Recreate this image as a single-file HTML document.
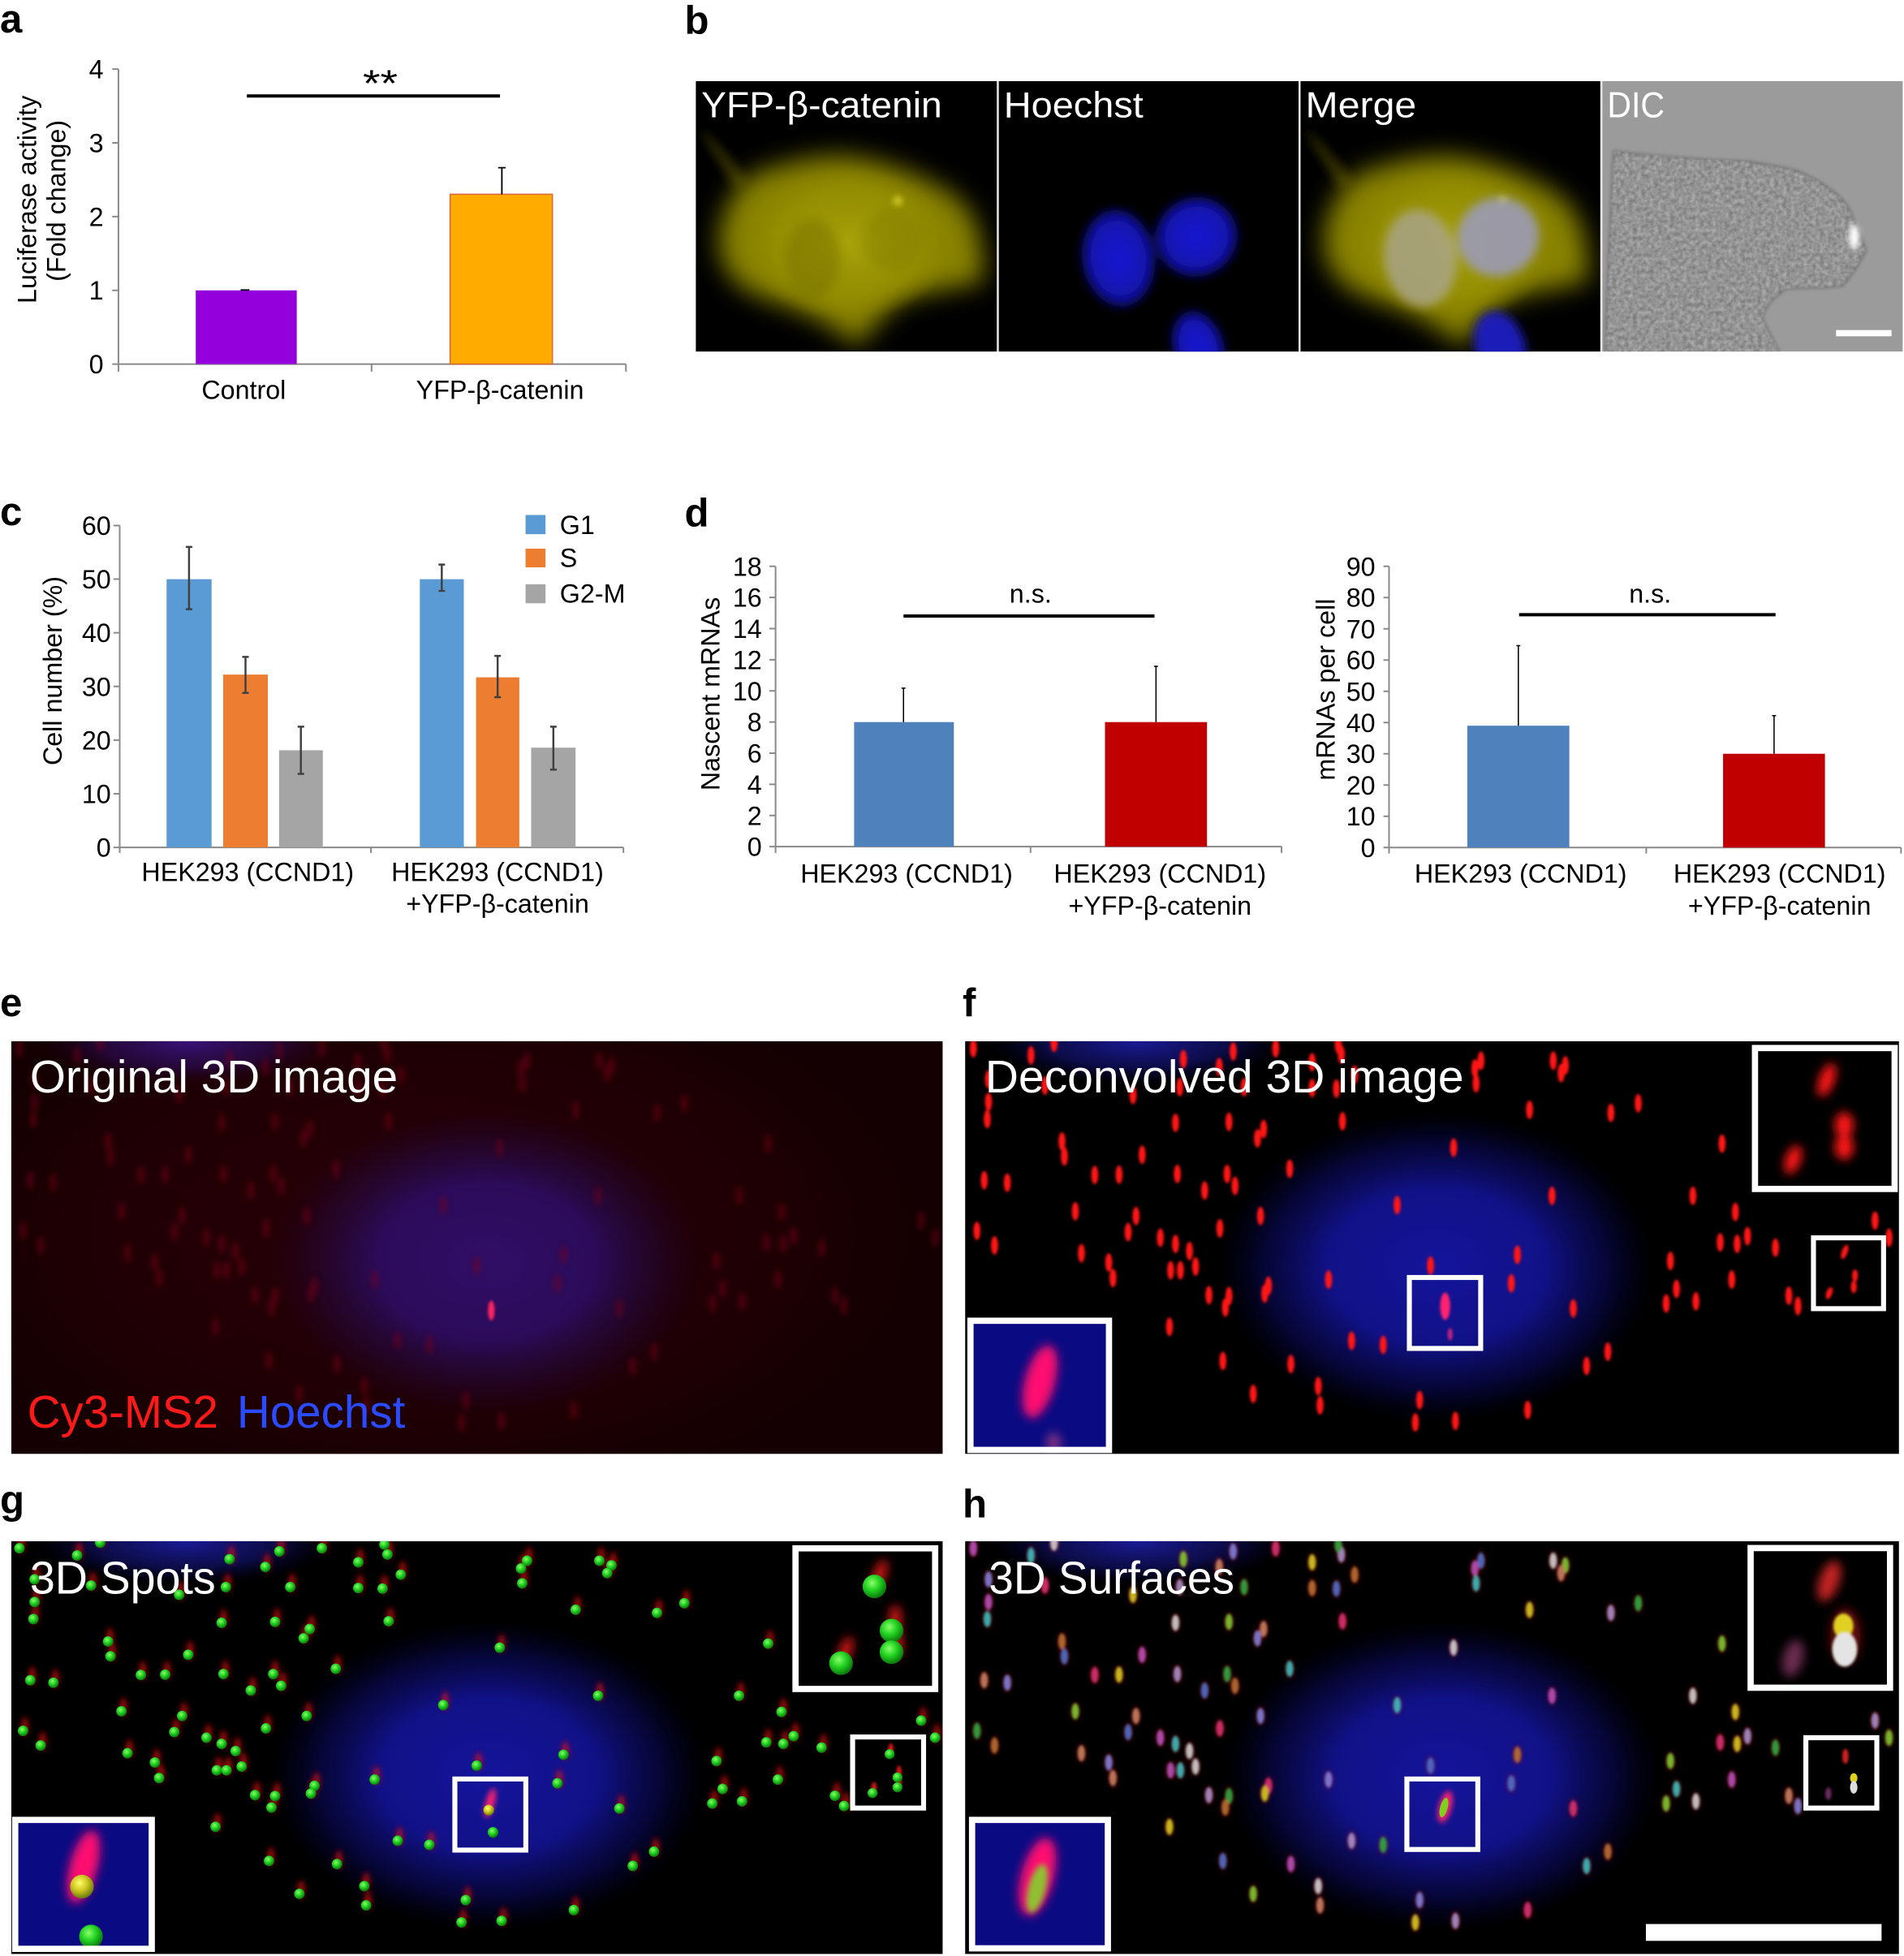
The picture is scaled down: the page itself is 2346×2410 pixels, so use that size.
<!DOCTYPE html>
<html><head><meta charset="utf-8">
<style>
html,body{margin:0;padding:0;background:#fff;}
svg{display:block;}
text{font-family:"Liberation Sans",Arial,sans-serif;}
.c0{fill:#b850b8}.c1{fill:#40bcbc}.c2{fill:#d0d0d0}.c3{fill:#80c830}.c4{fill:#c88060}.c5{fill:#8080d8}
.c6{fill:#d83070}.c7{fill:#d8c820}.c8{fill:#a890c8}.c9{fill:#30a840}.c10{fill:#b87030}.c11{fill:#5070c8}
</style></head><body>
<svg xmlns="http://www.w3.org/2000/svg" width="2346" height="2410" viewBox="0 0 1527 1568.65" preserveAspectRatio="none">
<defs>
<filter id="b1" x="-30%" y="-30%" width="160%" height="160%"><feGaussianBlur stdDeviation="1.1"/></filter>
<filter id="b2" x="-50%" y="-50%" width="200%" height="200%"><feGaussianBlur stdDeviation="2.2"/></filter>
<filter id="b4" x="-80%" y="-80%" width="260%" height="260%"><feGaussianBlur stdDeviation="4"/></filter>
<filter id="b10" x="-50%" y="-50%" width="200%" height="200%"><feGaussianBlur stdDeviation="10"/></filter>
<filter id="tex" x="0" y="0" width="100%" height="100%" color-interpolation-filters="sRGB">
<feTurbulence type="fractalNoise" baseFrequency="0.3" numOctaves="2" seed="4" result="n"/>
<feColorMatrix in="n" type="matrix" values="0.3 0 0 0 0.43  0.3 0 0 0 0.43  0.3 0 0 0 0.43  0 0 0 0 1" result="g"/>
<feComposite in="g" in2="SourceGraphic" operator="in"/>
</filter>
<radialGradient id="nucB"><stop offset="0" stop-color="#14149c"/><stop offset=".5" stop-color="#12128e" stop-opacity=".95"/><stop offset=".78" stop-color="#0c0c70" stop-opacity=".5"/><stop offset="1" stop-color="#000040" stop-opacity="0"/></radialGradient>
<radialGradient id="nucP"><stop offset="0" stop-color="#300e66"/><stop offset=".5" stop-color="#2c0c5e" stop-opacity=".95"/><stop offset=".78" stop-color="#24083e" stop-opacity=".5"/><stop offset="1" stop-color="#200020" stop-opacity="0"/></radialGradient>
<radialGradient id="topB"><stop offset="0" stop-color="#1a1a96"/><stop offset=".6" stop-color="#141478" stop-opacity=".6"/><stop offset="1" stop-color="#000040" stop-opacity="0"/></radialGradient>
<radialGradient id="topP"><stop offset="0" stop-color="#3a1278"/><stop offset=".6" stop-color="#2c0c58" stop-opacity=".6"/><stop offset="1" stop-color="#200020" stop-opacity="0"/></radialGradient>
<radialGradient id="hazeR"><stop offset="0" stop-color="#2a0007"/><stop offset=".7" stop-color="#220005" stop-opacity=".7"/><stop offset="1" stop-color="#140002" stop-opacity="0"/></radialGradient>
<radialGradient id="yc"><stop offset="0" stop-color="#a8a20a"/><stop offset=".7" stop-color="#9a9404" stop-opacity=".6"/><stop offset="1" stop-color="#8c8600" stop-opacity="0"/></radialGradient>
<radialGradient id="gb" cx=".4" cy=".35" r=".65"><stop offset="0" stop-color="#8aff6a"/><stop offset=".5" stop-color="#22d222"/><stop offset="1" stop-color="#0a780a"/></radialGradient>
<radialGradient id="yb" cx=".4" cy=".35" r=".65"><stop offset="0" stop-color="#ffff70"/><stop offset=".5" stop-color="#d0c820"/><stop offset="1" stop-color="#6a7a10"/></radialGradient>
<radialGradient id="nb" cx=".5" cy=".5" r=".5"><stop offset="0" stop-color="#1a1ad2"/><stop offset=".7" stop-color="#1414b4"/><stop offset="1" stop-color="#0a0a78"/></radialGradient>
<clipPath id="cb1"><rect x="558" y="65" width="241.5" height="217"/></clipPath>
<clipPath id="cb2"><rect x="801" y="65" width="240.5" height="217"/></clipPath>
<clipPath id="cb3"><rect x="1043" y="65" width="240.5" height="217"/></clipPath>
<clipPath id="cb4"><rect x="1285" y="65" width="241" height="217"/></clipPath>
<clipPath id="ce"><rect x="9" y="835" width="747" height="331"/></clipPath>
<clipPath id="cf"><rect x="774" y="835" width="749" height="331"/></clipPath>
<clipPath id="cg"><rect x="9" y="1236" width="747" height="331"/></clipPath>
<clipPath id="ch"><rect x="774" y="1236" width="749" height="331"/></clipPath>
<g id="yfp">
<path d="M562,104 C575,114 590,130 600,146 L590,152 C578,132 568,118 562,104 Z" fill="#2e2c00" filter="url(#b4)"/>
<g filter="url(#b10)">
<path d="M600,142 C622,132 660,122 685.7,126 C712,130 742,142 762,155 C782,168 790,192 788,226 C760,232 732,236 724,241 C708,251 700,264 687,278 C672,263 650,252 630,245 C610,238 596,234 587,222 C575,208 575,190 580,175 C585,160 592,150 600,142 Z" fill="#888200"/>
</g>
<ellipse cx="680" cy="195" rx="85" ry="62" fill="url(#yc)"/>
<ellipse cx="652" cy="208" rx="22" ry="32" fill="#746e00" opacity=".45" filter="url(#b4)"/>
<ellipse cx="716" cy="192" rx="24" ry="24" fill="#7a7400" opacity=".3" filter="url(#b4)"/>
<ellipse cx="720" cy="161" rx="4" ry="4" fill="#c8c020" filter="url(#b2)"/>
</g>
<g id="P">
<ellipse cx="32" cy="255" rx="5.8" ry="30"/><ellipse cx="127" cy="278" rx="5.8" ry="30"/><ellipse cx="165" cy="237" rx="5.8" ry="30"/><ellipse cx="378" cy="290" rx="5.8" ry="30"/><ellipse cx="437" cy="315" rx="5.8" ry="30"/><ellipse cx="460" cy="265" rx="5.8" ry="30"/><ellipse cx="530" cy="255" rx="5.8" ry="30"/><ellipse cx="590" cy="300" rx="5.8" ry="30"/><ellipse cx="638" cy="275" rx="5.8" ry="30"/><ellipse cx="633" cy="243" rx="5.8" ry="30"/><ellipse cx="660" cy="340" rx="5.8" ry="30"/><ellipse cx="868" cy="295" rx="5.8" ry="30"/><ellipse cx="858" cy="320" rx="5.8" ry="30"/><ellipse cx="860" cy="368" rx="5.8" ry="30"/><ellipse cx="987" cy="295" rx="5.8" ry="30"/><ellipse cx="1007" cy="310" rx="5.8" ry="30"/><ellipse cx="1000" cy="335" rx="5.8" ry="30"/><ellipse cx="57" cy="355" rx="5.8" ry="30"/><ellipse cx="150" cy="375" rx="5.8" ry="30"/><ellipse cx="295" cy="405" rx="5.8" ry="30"/><ellipse cx="372" cy="380" rx="5.8" ry="30"/><ellipse cx="478" cy="380" rx="5.8" ry="30"/><ellipse cx="590" cy="383" rx="5.8" ry="30"/><ellipse cx="630" cy="385" rx="5.8" ry="30"/><ellipse cx="57" cy="428" rx="5.8" ry="30"/><ellipse cx="55" cy="483" rx="5.8" ry="30"/><ellipse cx="365" cy="495" rx="5.8" ry="30"/><ellipse cx="453" cy="492" rx="5.8" ry="30"/><ellipse cx="510" cy="515" rx="5.8" ry="30"/><ellipse cx="500" cy="545" rx="5.8" ry="30"/><ellipse cx="640" cy="490" rx="5.8" ry="30"/><ellipse cx="948" cy="453" rx="5.8" ry="30"/><ellipse cx="1082" cy="463" rx="5.8" ry="30"/><ellipse cx="1127" cy="432" rx="5.8" ry="30"/><ellipse cx="178" cy="555" rx="5.8" ry="30"/><ellipse cx="182" cy="603" rx="5.8" ry="30"/><ellipse cx="310" cy="598" rx="5.8" ry="30"/><ellipse cx="553" cy="643" rx="5.8" ry="30"/><ellipse cx="823" cy="575" rx="5.8" ry="30"/><ellipse cx="1265" cy="562" rx="5.8" ry="30"/><ellipse cx="50" cy="680" rx="5.8" ry="30"/><ellipse cx="88" cy="688" rx="5.8" ry="30"/><ellipse cx="232" cy="663" rx="5.8" ry="30"/><ellipse cx="272" cy="662" rx="5.8" ry="30"/><ellipse cx="368" cy="660" rx="5.8" ry="30"/><ellipse cx="450" cy="660" rx="5.8" ry="30"/><ellipse cx="463" cy="698" rx="5.8" ry="30"/><ellipse cx="413" cy="713" rx="5.8" ry="30"/><ellipse cx="985" cy="730" rx="5.8" ry="30"/><ellipse cx="730" cy="760" rx="5.8" ry="30"/><ellipse cx="1217" cy="730" rx="5.8" ry="30"/><ellipse cx="200" cy="780" rx="5.8" ry="30"/><ellipse cx="300" cy="795" rx="5.8" ry="30"/><ellipse cx="505" cy="795" rx="5.8" ry="30"/><ellipse cx="438" cy="835" rx="5.8" ry="30"/><ellipse cx="1287" cy="782" rx="5.8" ry="30"/><ellipse cx="1517" cy="810" rx="5.8" ry="30"/><ellipse cx="38" cy="843" rx="5.8" ry="30"/><ellipse cx="67" cy="890" rx="5.8" ry="30"/><ellipse cx="287" cy="847" rx="5.8" ry="30"/><ellipse cx="340" cy="865" rx="5.8" ry="30"/><ellipse cx="365" cy="885" rx="5.8" ry="30"/><ellipse cx="388" cy="908" rx="5.8" ry="30"/><ellipse cx="1540" cy="865" rx="5.8" ry="30"/><ellipse cx="210" cy="915" rx="5.8" ry="30"/><ellipse cx="255" cy="945" rx="5.8" ry="30"/><ellipse cx="1262" cy="880" rx="5.8" ry="30"/><ellipse cx="1290" cy="885" rx="5.8" ry="30"/><ellipse cx="1307" cy="860" rx="5.8" ry="30"/><ellipse cx="1353" cy="897" rx="5.8" ry="30"/><ellipse cx="928" cy="920" rx="5.8" ry="30"/><ellipse cx="785" cy="955" rx="5.8" ry="30"/><ellipse cx="357" cy="970" rx="5.8" ry="30"/><ellipse cx="373" cy="970" rx="5.8" ry="30"/><ellipse cx="398" cy="958" rx="5.8" ry="30"/><ellipse cx="1180" cy="940" rx="5.8" ry="30"/><ellipse cx="262" cy="995" rx="5.8" ry="30"/><ellipse cx="617" cy="1000" rx="5.8" ry="30"/><ellipse cx="518" cy="1020" rx="5.8" ry="30"/><ellipse cx="512" cy="1045" rx="5.8" ry="30"/><ellipse cx="420" cy="1050" rx="5.8" ry="30"/><ellipse cx="453" cy="1053" rx="5.8" ry="30"/><ellipse cx="447" cy="1090" rx="5.8" ry="30"/><ellipse cx="918" cy="1012" rx="5.8" ry="30"/><ellipse cx="1281" cy="1000" rx="5.8" ry="30"/><ellipse cx="1190" cy="1030" rx="5.8" ry="30"/><ellipse cx="1222" cy="1070" rx="5.8" ry="30"/><ellipse cx="1173" cy="1077" rx="5.8" ry="30"/><ellipse cx="1375" cy="1052" rx="5.8" ry="30"/><ellipse cx="1390" cy="1085" rx="5.8" ry="30"/><ellipse cx="1020" cy="1093" rx="5.8" ry="30"/><ellipse cx="355" cy="1152" rx="5.8" ry="30"/><ellipse cx="655" cy="1197" rx="5.8" ry="30"/><ellipse cx="707" cy="1210" rx="5.8" ry="30"/><ellipse cx="1077" cy="1232" rx="5.8" ry="30"/><ellipse cx="443" cy="1262" rx="5.8" ry="30"/><ellipse cx="555" cy="1272" rx="5.8" ry="30"/><ellipse cx="1042" cy="1278" rx="5.8" ry="30"/><ellipse cx="600" cy="1343" rx="5.8" ry="30"/><ellipse cx="493" cy="1368" rx="5.8" ry="30"/><ellipse cx="603" cy="1405" rx="5.8" ry="30"/><ellipse cx="767" cy="1388" rx="5.8" ry="30"/><ellipse cx="945" cy="1420" rx="5.8" ry="30"/><ellipse cx="760" cy="1460" rx="5.8" ry="30"/><ellipse cx="826" cy="1455" rx="5.8" ry="30"/>
</g>
<g id="G">
<ellipse cx="32" cy="255" rx="8.6" ry="17"/><ellipse cx="127" cy="278" rx="8.6" ry="17"/><ellipse cx="165" cy="237" rx="8.6" ry="17"/><ellipse cx="378" cy="290" rx="8.6" ry="17"/><ellipse cx="437" cy="315" rx="8.6" ry="17"/><ellipse cx="460" cy="265" rx="8.6" ry="17"/><ellipse cx="530" cy="255" rx="8.6" ry="17"/><ellipse cx="590" cy="300" rx="8.6" ry="17"/><ellipse cx="638" cy="275" rx="8.6" ry="17"/><ellipse cx="633" cy="243" rx="8.6" ry="17"/><ellipse cx="660" cy="340" rx="8.6" ry="17"/><ellipse cx="868" cy="295" rx="8.6" ry="17"/><ellipse cx="858" cy="320" rx="8.6" ry="17"/><ellipse cx="860" cy="368" rx="8.6" ry="17"/><ellipse cx="987" cy="295" rx="8.6" ry="17"/><ellipse cx="1007" cy="310" rx="8.6" ry="17"/><ellipse cx="1000" cy="335" rx="8.6" ry="17"/><ellipse cx="57" cy="355" rx="8.6" ry="17"/><ellipse cx="150" cy="375" rx="8.6" ry="17"/><ellipse cx="295" cy="405" rx="8.6" ry="17"/><ellipse cx="372" cy="380" rx="8.6" ry="17"/><ellipse cx="478" cy="380" rx="8.6" ry="17"/><ellipse cx="590" cy="383" rx="8.6" ry="17"/><ellipse cx="630" cy="385" rx="8.6" ry="17"/><ellipse cx="57" cy="428" rx="8.6" ry="17"/><ellipse cx="55" cy="483" rx="8.6" ry="17"/><ellipse cx="365" cy="495" rx="8.6" ry="17"/><ellipse cx="453" cy="492" rx="8.6" ry="17"/><ellipse cx="510" cy="515" rx="8.6" ry="17"/><ellipse cx="500" cy="545" rx="8.6" ry="17"/><ellipse cx="640" cy="490" rx="8.6" ry="17"/><ellipse cx="948" cy="453" rx="8.6" ry="17"/><ellipse cx="1082" cy="463" rx="8.6" ry="17"/><ellipse cx="1127" cy="432" rx="8.6" ry="17"/><ellipse cx="178" cy="555" rx="8.6" ry="17"/><ellipse cx="182" cy="603" rx="8.6" ry="17"/><ellipse cx="310" cy="598" rx="8.6" ry="17"/><ellipse cx="553" cy="643" rx="8.6" ry="17"/><ellipse cx="823" cy="575" rx="8.6" ry="17"/><ellipse cx="1265" cy="562" rx="8.6" ry="17"/><ellipse cx="50" cy="680" rx="8.6" ry="17"/><ellipse cx="88" cy="688" rx="8.6" ry="17"/><ellipse cx="232" cy="663" rx="8.6" ry="17"/><ellipse cx="272" cy="662" rx="8.6" ry="17"/><ellipse cx="368" cy="660" rx="8.6" ry="17"/><ellipse cx="450" cy="660" rx="8.6" ry="17"/><ellipse cx="463" cy="698" rx="8.6" ry="17"/><ellipse cx="413" cy="713" rx="8.6" ry="17"/><ellipse cx="985" cy="730" rx="8.6" ry="17"/><ellipse cx="730" cy="760" rx="8.6" ry="17"/><ellipse cx="1217" cy="730" rx="8.6" ry="17"/><ellipse cx="200" cy="780" rx="8.6" ry="17"/><ellipse cx="300" cy="795" rx="8.6" ry="17"/><ellipse cx="505" cy="795" rx="8.6" ry="17"/><ellipse cx="438" cy="835" rx="8.6" ry="17"/><ellipse cx="1287" cy="782" rx="8.6" ry="17"/><ellipse cx="1517" cy="810" rx="8.6" ry="17"/><ellipse cx="38" cy="843" rx="8.6" ry="17"/><ellipse cx="67" cy="890" rx="8.6" ry="17"/><ellipse cx="287" cy="847" rx="8.6" ry="17"/><ellipse cx="340" cy="865" rx="8.6" ry="17"/><ellipse cx="365" cy="885" rx="8.6" ry="17"/><ellipse cx="388" cy="908" rx="8.6" ry="17"/><ellipse cx="1540" cy="865" rx="8.6" ry="17"/><ellipse cx="210" cy="915" rx="8.6" ry="17"/><ellipse cx="255" cy="945" rx="8.6" ry="17"/><ellipse cx="1262" cy="880" rx="8.6" ry="17"/><ellipse cx="1290" cy="885" rx="8.6" ry="17"/><ellipse cx="1307" cy="860" rx="8.6" ry="17"/><ellipse cx="1353" cy="897" rx="8.6" ry="17"/><ellipse cx="928" cy="920" rx="8.6" ry="17"/><ellipse cx="785" cy="955" rx="8.6" ry="17"/><ellipse cx="357" cy="970" rx="8.6" ry="17"/><ellipse cx="373" cy="970" rx="8.6" ry="17"/><ellipse cx="398" cy="958" rx="8.6" ry="17"/><ellipse cx="1180" cy="940" rx="8.6" ry="17"/><ellipse cx="262" cy="995" rx="8.6" ry="17"/><ellipse cx="617" cy="1000" rx="8.6" ry="17"/><ellipse cx="518" cy="1020" rx="8.6" ry="17"/><ellipse cx="512" cy="1045" rx="8.6" ry="17"/><ellipse cx="420" cy="1050" rx="8.6" ry="17"/><ellipse cx="453" cy="1053" rx="8.6" ry="17"/><ellipse cx="447" cy="1090" rx="8.6" ry="17"/><ellipse cx="918" cy="1012" rx="8.6" ry="17"/><ellipse cx="1281" cy="1000" rx="8.6" ry="17"/><ellipse cx="1190" cy="1030" rx="8.6" ry="17"/><ellipse cx="1222" cy="1070" rx="8.6" ry="17"/><ellipse cx="1173" cy="1077" rx="8.6" ry="17"/><ellipse cx="1375" cy="1052" rx="8.6" ry="17"/><ellipse cx="1390" cy="1085" rx="8.6" ry="17"/><ellipse cx="1020" cy="1093" rx="8.6" ry="17"/><ellipse cx="355" cy="1152" rx="8.6" ry="17"/><ellipse cx="655" cy="1197" rx="8.6" ry="17"/><ellipse cx="707" cy="1210" rx="8.6" ry="17"/><ellipse cx="1077" cy="1232" rx="8.6" ry="17"/><ellipse cx="443" cy="1262" rx="8.6" ry="17"/><ellipse cx="555" cy="1272" rx="8.6" ry="17"/><ellipse cx="1042" cy="1278" rx="8.6" ry="17"/><ellipse cx="600" cy="1343" rx="8.6" ry="17"/><ellipse cx="493" cy="1368" rx="8.6" ry="17"/><ellipse cx="603" cy="1405" rx="8.6" ry="17"/><ellipse cx="767" cy="1388" rx="8.6" ry="17"/><ellipse cx="945" cy="1420" rx="8.6" ry="17"/><ellipse cx="760" cy="1460" rx="8.6" ry="17"/><ellipse cx="826" cy="1455" rx="8.6" ry="17"/>
</g>
</defs>

<rect width="1527" height="1568.65" fill="#fff"/>

<g font-weight="bold" font-size="32" fill="#000">
<text x="0" y="26">a</text><text x="549" y="27">b</text>
<text x="0" y="421">c</text><text x="549" y="422">d</text>
<text x="0" y="815">e</text><text x="772" y="815">f</text>
<text x="0" y="1214">g</text><text x="772" y="1217">h</text>
</g>

<!-- ===== Panel a ===== -->
<g stroke="#8a8a8a" stroke-width="1.3" fill="none">
<path d="M95 55.4V292M90 292H502M90 55.4H95M90 114.55H95M90 173.7H95M90 232.85H95M95 292V298M298 292V298M502 292V298"/>
</g>
<rect x="157" y="232.85" width="81" height="59.15" fill="#9400dc"/>
<rect x="361" y="155.8" width="82" height="136.2" fill="#ffab00" stroke="#d9663a" stroke-width="1"/>
<path d="M402.5 155.8V134.5M399.5 134.5H405.5M193 232.6H200" stroke="#000" stroke-width="1.2" fill="none"/>
<line x1="198" y1="77" x2="401" y2="77" stroke="#000" stroke-width="2.6"/>
<text x="305" y="77" font-size="30" text-anchor="middle" textLength="28" lengthAdjust="spacingAndGlyphs">**</text>
<g font-size="21" text-anchor="end" fill="#000">
<text x="83" y="299.5">0</text><text x="83" y="240.3">1</text><text x="83" y="181.2">2</text><text x="83" y="122">3</text><text x="83" y="62.9">4</text>
</g>
<g font-size="21" text-anchor="middle" fill="#000">
<text x="195.5" y="320">Control</text>
<text x="401" y="320">YFP-β-catenin</text>
<text transform="translate(29,160) rotate(-90)">Luciferase activity</text>
<text transform="translate(52.5,161) rotate(-90)">(Fold change)</text>
</g>

<!-- ===== Panel b ===== -->
<g clip-path="url(#cb1)">
<rect x="558" y="65" width="241.5" height="217" fill="#000"/>
<use href="#yfp"/>
<text x="562.5" y="94" font-size="29" fill="#fff" textLength="193" lengthAdjust="spacingAndGlyphs">YFP-β-catenin</text>
</g>
<g clip-path="url(#cb2)">
<rect x="801" y="65" width="240.5" height="217" fill="#000"/>
<g filter="url(#b4)">
<ellipse cx="897" cy="207" rx="29" ry="39" fill="url(#nb)" transform="rotate(-8 897 207)"/>
<ellipse cx="959.5" cy="190" rx="33" ry="31.5" fill="url(#nb)" transform="rotate(-20 959.5 190)"/>
<ellipse cx="961" cy="278" rx="20" ry="29" fill="url(#nb)" transform="rotate(-18 961 278)"/>
</g>
<text x="805" y="94" font-size="29" fill="#fff" textLength="112" lengthAdjust="spacingAndGlyphs">Hoechst</text>
</g>
<g clip-path="url(#cb3)">
<rect x="1043" y="65" width="240.5" height="217" fill="#000"/>
<g transform="translate(485,0)"><use href="#yfp"/></g>
<g filter="url(#b4)">
<ellipse cx="1139" cy="207" rx="29" ry="39" fill="#aaa688" transform="rotate(-8 1139 207)" opacity=".85"/>
<ellipse cx="1201.5" cy="190" rx="33" ry="31.5" fill="#9c9cbc" transform="rotate(-20 1201.5 190)" opacity=".88"/>
<ellipse cx="1203" cy="278" rx="20" ry="29" fill="#1c1cb8" transform="rotate(-18 1203 278)"/>
</g>
<text x="1047" y="94" font-size="29" fill="#fff" textLength="89" lengthAdjust="spacingAndGlyphs">Merge</text>
</g>
<g clip-path="url(#cb4)">
<rect x="1285" y="65" width="241" height="217" fill="#9b9b9b"/>
<path d="M1287,282 L1290,200 C1292,170 1292,140 1294,121 C1330,125 1370,128 1401.6,128.9 C1420,132 1440,135 1446,138.6 C1470,150 1480,160 1484,169 C1490,185 1496,195 1496.6,201.5 C1490,215 1482,225 1477.6,229.6 C1460,232 1445,231 1433,231.8 C1420,240 1414,250 1414,255.6 C1418,265 1424,275 1427,282 Z" fill="#999" filter="url(#tex)"/>
<path d="M1287,282 L1290,200 C1292,170 1292,140 1294,121 C1330,125 1370,128 1401.6,128.9 C1420,132 1440,135 1446,138.6 C1470,150 1480,160 1484,169 C1490,185 1496,195 1496.6,201.5 C1490,215 1482,225 1477.6,229.6 C1460,232 1445,231 1433,231.8 C1420,240 1414,250 1414,255.6 C1418,265 1424,275 1427,282" fill="none" stroke="#6a6a6a" stroke-width="1.2" opacity=".8" filter="url(#b1)"/>
<ellipse cx="1487" cy="190" rx="4" ry="10" fill="#fff" filter="url(#b2)"/>
<rect x="1472.5" y="264.7" width="44.5" height="5" fill="#fff"/>
<text x="1289" y="94" font-size="29" fill="#fff" textLength="46" lengthAdjust="spacingAndGlyphs">DIC</text>
</g>
<path d="M800.2 65V282M1042.2 65V282M1284.2 65V282" stroke="#ddd" stroke-width="1"/>

<!-- ===== Panel c ===== -->
<g stroke="#8a8a8a" stroke-width="1.3" fill="none">
<path d="M96 421.4V679.6M96 679.6H500M91 421.42H96M91 464.45H96M91 507.48H96M91 550.51H96M91 593.54H96M91 636.57H96M91 679.6H96M96 679.6V684M297.5 679.6V684M500 679.6V684"/>
</g>
<rect x="133.6" y="464.5" width="36.1" height="215.1" fill="#5b9bd5"/>
<rect x="179" y="541" width="35.8" height="138.6" fill="#ed7d31"/>
<rect x="223.8" y="601.7" width="35.1" height="77.9" fill="#a5a5a5"/>
<rect x="336.7" y="464.5" width="35.3" height="215.1" fill="#5b9bd5"/>
<rect x="381.8" y="543.2" width="34.7" height="136.4" fill="#ed7d31"/>
<rect x="426" y="599.6" width="35.6" height="80" fill="#a5a5a5"/>
<path stroke="#404040" stroke-width="1.6" fill="none" d="M151.6 438.6V488.6M149 438.6H154.2M149 488.6H154.2M196.9 526.8V555.7M194.3 526.8H199.5M194.3 555.7H199.5M241.3 582.8V620.6M238.7 582.8H243.9M238.7 620.6H243.9M354.3 452.8V473.9M351.7 452.8H356.9M351.7 473.9H356.9M399.1 526V559.1M396.5 526H401.7M396.5 559.1H401.7M443.8 582.8V617.2M441.2 582.8H446.4M441.2 617.2H446.4"/>
<rect x="421.5" y="413" width="16" height="15.4" fill="#5b9bd5"/>
<rect x="421.5" y="440" width="16" height="15" fill="#ed7d31"/>
<rect x="421.5" y="468.6" width="16" height="15.2" fill="#a5a5a5"/>
<g font-size="21" fill="#000">
<text x="449" y="428.4">G1</text><text x="449" y="454.6">S</text><text x="449" y="483.3">G2-M</text>
</g>
<g font-size="21" text-anchor="end" fill="#000">
<text x="89" y="687.1">0</text><text x="89" y="644.1">10</text><text x="89" y="601">20</text><text x="89" y="558">30</text><text x="89" y="515">40</text><text x="89" y="472">50</text><text x="89" y="428.9">60</text>
</g>
<g font-size="21" text-anchor="middle" fill="#000">
<text x="198.7" y="706.5">HEK293 (CCND1)</text>
<text x="399" y="706.5">HEK293 (CCND1)</text>
<text x="399" y="732">+YFP-β-catenin</text>
<text transform="translate(49.5,538) rotate(-90)">Cell number (%)</text>
</g>

<!-- ===== Panel d left ===== -->
<g stroke="#8a8a8a" stroke-width="1.3" fill="none">
<path d="M622 454.2V679M617 679H1028M617 454.18H622M617 479.16H622M617 504.14H622M617 529.12H622M617 554.1H622M617 579.08H622M617 604.06H622M617 629.04H622M617 654.02H622M622 679V684M826.5 679V684M1027.8 679V684"/>
</g>
<rect x="685" y="579.1" width="80" height="99.9" fill="#4f81bd"/>
<rect x="886.2" y="579.1" width="81.8" height="99.9" fill="#c00000"/>
<path stroke="#000" stroke-width="1" fill="none" d="M724.6 579.1V551.9M723 551.9H726.2M927.1 579.1V534.4M925.5 534.4H928.7"/>
<line x1="724.6" y1="494" x2="925.9" y2="494" stroke="#000" stroke-width="2.6"/>
<g font-size="21" text-anchor="end" fill="#000">
<text x="611" y="686.5">0</text><text x="611" y="661.5">2</text><text x="611" y="636.5">4</text><text x="611" y="611.6">6</text><text x="611" y="586.6">8</text><text x="611" y="561.6">10</text><text x="611" y="536.6">12</text><text x="611" y="511.6">14</text><text x="611" y="486.7">16</text><text x="611" y="461.7">18</text>
</g>
<g font-size="21" text-anchor="middle" fill="#000">
<text x="826.5" y="483.4">n.s.</text>
<text x="727.1" y="707.8">HEK293 (CCND1)</text>
<text x="930.3" y="707.8">HEK293 (CCND1)</text>
<text x="930.3" y="733.5">+YFP-β-catenin</text>
<text transform="translate(577,556.5) rotate(-90)">Nascent mRNAs</text>
</g>

<!-- ===== Panel d right ===== -->
<g stroke="#8a8a8a" stroke-width="1.3" fill="none">
<path d="M1114 454.2V679.7M1109.5 679.7H1524.6M1109.5 454.16H1114M1109.5 479.22H1114M1109.5 504.28H1114M1109.5 529.34H1114M1109.5 554.4H1114M1109.5 579.46H1114M1109.5 604.52H1114M1109.5 629.58H1114M1109.5 654.64H1114M1114 679.7V684.5M1320.3 679.7V684.5M1524.6 679.7V684.5"/>
</g>
<rect x="1176.8" y="582" width="81.8" height="97.7" fill="#4f81bd"/>
<rect x="1381.9" y="604.5" width="81.7" height="75.2" fill="#c00000"/>
<path stroke="#000" stroke-width="1" fill="none" d="M1217.7 582V517.8M1216.1 517.8H1219.3M1422.8 604.5V573.9M1421.2 573.9H1424.4"/>
<line x1="1218.3" y1="493" x2="1424" y2="493" stroke="#000" stroke-width="2.6"/>
<g font-size="21" text-anchor="end" fill="#000">
<text x="1103" y="687.2">0</text><text x="1103" y="662.1">10</text><text x="1103" y="637.1">20</text><text x="1103" y="612">30</text><text x="1103" y="587">40</text><text x="1103" y="561.9">50</text><text x="1103" y="536.8">60</text><text x="1103" y="511.8">70</text><text x="1103" y="486.7">80</text><text x="1103" y="461.7">90</text>
</g>
<g font-size="21" text-anchor="middle" fill="#000">
<text x="1323.4" y="483.4">n.s.</text>
<text x="1219.6" y="707.8">HEK293 (CCND1)</text>
<text x="1427.2" y="707.8">HEK293 (CCND1)</text>
<text x="1427.2" y="733.5">+YFP-β-catenin</text>
<text transform="translate(1070.5,553) rotate(-90)">mRNAs per cell</text>
</g>

<!-- ===== Panel e ===== -->
<g clip-path="url(#ce)">
<rect x="9" y="835" width="747" height="331" fill="#140002"/>
<ellipse cx="340" cy="990" rx="420" ry="230" fill="url(#hazeR)"/>
<ellipse cx="390" cy="1012" rx="175" ry="125" fill="url(#nucP)"/>
<ellipse cx="150" cy="836" rx="120" ry="34" fill="url(#topP)"/>
<g filter="url(#b2)" opacity=".5"><g transform="translate(0,777.2) scale(0.487,0.249)"><use href="#P" fill="#7a0018"/></g></g>
<ellipse cx="394" cy="1051" rx="2.6" ry="8" fill="#ff2060" filter="url(#b1)"/>
<text x="24" y="876" font-size="37" fill="#fff" textLength="295" lengthAdjust="spacingAndGlyphs">Original 3D image</text>
<text x="22" y="1145" font-size="37" fill="#ff1a1a" textLength="153" lengthAdjust="spacingAndGlyphs">Cy3-MS2</text>
<text x="190" y="1145" font-size="37" fill="#2a4bff" textLength="135" lengthAdjust="spacingAndGlyphs">Hoechst</text>
</g>

<!-- ===== Panel f ===== -->
<g clip-path="url(#cf)">
<rect x="774" y="835" width="749" height="331" fill="#000"/>
<ellipse cx="1152" cy="1016" rx="175" ry="125" fill="url(#nucB)"/>
<ellipse cx="912" cy="836" rx="120" ry="34" fill="url(#topB)"/>
<g filter="url(#b1)"><g transform="translate(765,777.2) scale(0.487,0.249)"><use href="#P" fill="#ff1212"/></g></g>
<ellipse cx="1159" cy="1047.5" rx="4" ry="11" fill="#ff2070" filter="url(#b1)"/>
<ellipse cx="1163" cy="1070" rx="2" ry="5" fill="#c02080" filter="url(#b1)"/>
<text x="790" y="876" font-size="37" fill="#fff" textLength="384" lengthAdjust="spacingAndGlyphs">Deconvolved 3D image</text>
<rect x="1405" y="838" width="117" height="118" fill="#000"/>
<g filter="url(#b4)" fill="#ff1515">
<ellipse cx="1465" cy="866" rx="6" ry="14" transform="rotate(20 1465 866)"/>
<ellipse cx="1479" cy="902" rx="7.5" ry="10"/>
<ellipse cx="1479" cy="920" rx="7.5" ry="10"/>
<ellipse cx="1438" cy="930" rx="6" ry="12" transform="rotate(20 1438 930)"/>
</g>
<rect x="1407.5" y="840.5" width="112" height="113" fill="none" stroke="#fff" stroke-width="5"/>
<rect x="1452.4" y="990.7" width="60.2" height="60.8" fill="#000"/>
<g filter="url(#b1)" fill="#ff1515">
<ellipse cx="1479.4" cy="1004" rx="2.4" ry="6" transform="rotate(20 1479.4 1004)"/>
<ellipse cx="1487.7" cy="1023" rx="2.4" ry="5"/>
<ellipse cx="1486.7" cy="1032" rx="2.4" ry="5"/>
<ellipse cx="1467" cy="1037" rx="2.4" ry="5" transform="rotate(20 1467 1037)"/>
</g>
<rect x="1454.4" y="992.7" width="56.2" height="56.8" fill="none" stroke="#fff" stroke-width="4"/>
<rect x="1130.3" y="1024.5" width="57.2" height="56.9" fill="none" stroke="#fff" stroke-width="4"/>
<rect x="775.8" y="1056.7" width="116.1" height="108.6" fill="#0a0a82"/>
<ellipse cx="834" cy="1108" rx="12" ry="30" fill="#ff1070" transform="rotate(15 834 1108)" filter="url(#b4)"/>
<ellipse cx="845" cy="1157" rx="6" ry="8" fill="#803080" filter="url(#b4)"/>
<rect x="778.3" y="1059.2" width="111.1" height="103.6" fill="none" stroke="#fff" stroke-width="5"/>
</g>

<!-- ===== Panel g ===== -->
<g clip-path="url(#cg)">
<rect x="9" y="1236" width="747" height="331" fill="#000"/>
<ellipse cx="392" cy="1424" rx="175" ry="125" fill="url(#nucB)"/>
<ellipse cx="148" cy="1237" rx="120" ry="34" fill="url(#topB)"/>
<g filter="url(#b2)" opacity=".7"><g transform="translate(1.5,1174.7) scale(0.487,0.249)"><use href="#P" fill="#e01010"/></g></g>
<g transform="translate(0,1178.2) scale(0.487,0.249)"><use href="#G" fill="url(#gb)"/></g>
<text x="24" y="1278" font-size="37" fill="#fff" textLength="149" lengthAdjust="spacingAndGlyphs">3D Spots</text>
<ellipse cx="393" cy="1446" rx="3.5" ry="12" fill="#ff2070" transform="rotate(15 393 1446)" filter="url(#b2)"/>
<circle cx="392" cy="1451.6" r="4.3" fill="url(#yb)"/>
<circle cx="395.4" cy="1469.5" r="4.3" fill="url(#gb)"/>
<rect x="364.8" y="1426.7" width="56.9" height="57" fill="none" stroke="#fff" stroke-width="4"/>
<rect x="635.5" y="1239.2" width="117" height="117.8" fill="#000"/>
<g filter="url(#b4)" fill="#d01515">
<ellipse cx="705" cy="1264" rx="5" ry="14" transform="rotate(20 705 1264)"/>
<ellipse cx="718" cy="1299" rx="5" ry="12"/>
<ellipse cx="719" cy="1318" rx="5" ry="12"/>
<ellipse cx="678" cy="1324" rx="5" ry="12" transform="rotate(20 678 1324)"/>
</g>
<circle cx="701.3" cy="1272.3" r="9.5" fill="url(#gb)"/>
<circle cx="715" cy="1307.7" r="9.5" fill="url(#gb)"/>
<circle cx="715" cy="1325" r="9.5" fill="url(#gb)"/>
<circle cx="674.5" cy="1333.8" r="9.5" fill="url(#gb)"/>
<rect x="638" y="1241.7" width="112" height="112.8" fill="none" stroke="#fff" stroke-width="5"/>
<rect x="681.8" y="1391" width="60.9" height="61" fill="#000"/>
<g filter="url(#b1)" fill="#d01515">
<ellipse cx="714.5" cy="1403" rx="2.2" ry="5"/><ellipse cx="721" cy="1421" rx="2.2" ry="5"/><ellipse cx="721" cy="1429" rx="2.2" ry="5"/><ellipse cx="701" cy="1434" rx="2.2" ry="5"/>
</g>
<circle cx="713.5" cy="1406.8" r="4" fill="url(#gb)"/><circle cx="719.8" cy="1425.5" r="4" fill="url(#gb)"/><circle cx="719.8" cy="1433.4" r="4" fill="url(#gb)"/><circle cx="699.8" cy="1438" r="4" fill="url(#gb)"/>
<rect x="683.8" y="1393" width="56.9" height="57" fill="none" stroke="#fff" stroke-width="4"/>
<rect x="9.7" y="1457" width="114.5" height="108.4" fill="#0a0a82"/>
<ellipse cx="67" cy="1497" rx="11" ry="30" fill="#ff1070" transform="rotate(15 67 1497)" filter="url(#b4)"/>
<circle cx="65.7" cy="1513" r="9.5" fill="url(#yb)"/>
<circle cx="73" cy="1553" r="9.5" fill="url(#gb)"/>
<rect x="12.2" y="1459.5" width="109.5" height="103.4" fill="none" stroke="#fff" stroke-width="5"/>
</g>

<!-- ===== Panel h ===== -->
<g clip-path="url(#ch)">
<rect x="774" y="1236" width="749" height="331" fill="#000"/>
<ellipse cx="1157" cy="1424" rx="175" ry="125" fill="url(#nucB)"/>
<ellipse cx="913" cy="1237" rx="120" ry="34" fill="url(#topB)"/>
<g filter="url(#b2)" opacity=".55"><g transform="translate(765,1178.2) scale(0.487,0.249)"><use href="#P" fill="#a00010"/></g></g>
<g filter="url(#b1)" opacity=".9"><g transform="translate(765,1178.2) scale(0.487,0.249)">
<ellipse class="c0" cx="32" cy="255" rx="6.2" ry="26"/><ellipse class="c1" cx="127" cy="278" rx="6.2" ry="26"/><ellipse class="c2" cx="165" cy="237" rx="6.2" ry="26"/><ellipse class="c3" cx="378" cy="290" rx="6.2" ry="26"/><ellipse class="c4" cx="437" cy="315" rx="6.2" ry="26"/><ellipse class="c5" cx="460" cy="265" rx="6.2" ry="26"/><ellipse class="c6" cx="530" cy="255" rx="6.2" ry="26"/><ellipse class="c7" cx="590" cy="300" rx="6.2" ry="26"/><ellipse class="c8" cx="638" cy="275" rx="6.2" ry="26"/><ellipse class="c9" cx="633" cy="243" rx="6.2" ry="26"/><ellipse class="c10" cx="660" cy="340" rx="6.2" ry="26"/><ellipse class="c11" cx="868" cy="295" rx="6.2" ry="26"/>
<ellipse class="c0" cx="858" cy="320" rx="6.2" ry="26"/><ellipse class="c1" cx="860" cy="368" rx="6.2" ry="26"/><ellipse class="c2" cx="987" cy="295" rx="6.2" ry="26"/><ellipse class="c3" cx="1007" cy="310" rx="6.2" ry="26"/><ellipse class="c4" cx="1000" cy="335" rx="6.2" ry="26"/><ellipse class="c5" cx="57" cy="355" rx="6.2" ry="26"/><ellipse class="c6" cx="150" cy="375" rx="6.2" ry="26"/><ellipse class="c7" cx="295" cy="405" rx="6.2" ry="26"/><ellipse class="c8" cx="372" cy="380" rx="6.2" ry="26"/><ellipse class="c9" cx="478" cy="380" rx="6.2" ry="26"/><ellipse class="c10" cx="590" cy="383" rx="6.2" ry="26"/><ellipse class="c11" cx="630" cy="385" rx="6.2" ry="26"/>
<ellipse class="c0" cx="57" cy="428" rx="6.2" ry="26"/><ellipse class="c1" cx="55" cy="483" rx="6.2" ry="26"/><ellipse class="c2" cx="365" cy="495" rx="6.2" ry="26"/><ellipse class="c3" cx="453" cy="492" rx="6.2" ry="26"/><ellipse class="c4" cx="510" cy="515" rx="6.2" ry="26"/><ellipse class="c5" cx="500" cy="545" rx="6.2" ry="26"/><ellipse class="c6" cx="640" cy="490" rx="6.2" ry="26"/><ellipse class="c7" cx="948" cy="453" rx="6.2" ry="26"/><ellipse class="c8" cx="1082" cy="463" rx="6.2" ry="26"/><ellipse class="c9" cx="1127" cy="432" rx="6.2" ry="26"/><ellipse class="c10" cx="178" cy="555" rx="6.2" ry="26"/><ellipse class="c11" cx="182" cy="603" rx="6.2" ry="26"/>
<ellipse class="c0" cx="310" cy="598" rx="6.2" ry="26"/><ellipse class="c1" cx="553" cy="643" rx="6.2" ry="26"/><ellipse class="c2" cx="823" cy="575" rx="6.2" ry="26"/><ellipse class="c3" cx="1265" cy="562" rx="6.2" ry="26"/><ellipse class="c4" cx="50" cy="680" rx="6.2" ry="26"/><ellipse class="c5" cx="88" cy="688" rx="6.2" ry="26"/><ellipse class="c6" cx="232" cy="663" rx="6.2" ry="26"/><ellipse class="c7" cx="272" cy="662" rx="6.2" ry="26"/><ellipse class="c8" cx="368" cy="660" rx="6.2" ry="26"/><ellipse class="c9" cx="450" cy="660" rx="6.2" ry="26"/><ellipse class="c10" cx="463" cy="698" rx="6.2" ry="26"/><ellipse class="c11" cx="413" cy="713" rx="6.2" ry="26"/>
<ellipse class="c0" cx="985" cy="730" rx="6.2" ry="26"/><ellipse class="c1" cx="730" cy="760" rx="6.2" ry="26"/><ellipse class="c2" cx="1217" cy="730" rx="6.2" ry="26"/><ellipse class="c3" cx="200" cy="780" rx="6.2" ry="26"/><ellipse class="c4" cx="300" cy="795" rx="6.2" ry="26"/><ellipse class="c5" cx="505" cy="795" rx="6.2" ry="26"/><ellipse class="c6" cx="438" cy="835" rx="6.2" ry="26"/><ellipse class="c7" cx="1287" cy="782" rx="6.2" ry="26"/><ellipse class="c8" cx="1517" cy="810" rx="6.2" ry="26"/><ellipse class="c9" cx="38" cy="843" rx="6.2" ry="26"/><ellipse class="c10" cx="67" cy="890" rx="6.2" ry="26"/><ellipse class="c11" cx="287" cy="847" rx="6.2" ry="26"/>
<ellipse class="c0" cx="340" cy="865" rx="6.2" ry="26"/><ellipse class="c1" cx="365" cy="885" rx="6.2" ry="26"/><ellipse class="c2" cx="388" cy="908" rx="6.2" ry="26"/><ellipse class="c3" cx="1540" cy="865" rx="6.2" ry="26"/><ellipse class="c4" cx="210" cy="915" rx="6.2" ry="26"/><ellipse class="c5" cx="255" cy="945" rx="6.2" ry="26"/><ellipse class="c6" cx="1262" cy="880" rx="6.2" ry="26"/><ellipse class="c7" cx="1290" cy="885" rx="6.2" ry="26"/><ellipse class="c8" cx="1307" cy="860" rx="6.2" ry="26"/><ellipse class="c9" cx="1353" cy="897" rx="6.2" ry="26"/><ellipse class="c10" cx="928" cy="920" rx="6.2" ry="26"/><ellipse class="c11" cx="785" cy="955" rx="6.2" ry="26"/>
<ellipse class="c0" cx="357" cy="970" rx="6.2" ry="26"/><ellipse class="c1" cx="373" cy="970" rx="6.2" ry="26"/><ellipse class="c2" cx="398" cy="958" rx="6.2" ry="26"/><ellipse class="c3" cx="1180" cy="940" rx="6.2" ry="26"/><ellipse class="c4" cx="262" cy="995" rx="6.2" ry="26"/><ellipse class="c5" cx="617" cy="1000" rx="6.2" ry="26"/><ellipse class="c6" cx="518" cy="1020" rx="6.2" ry="26"/><ellipse class="c7" cx="512" cy="1045" rx="6.2" ry="26"/><ellipse class="c8" cx="420" cy="1050" rx="6.2" ry="26"/><ellipse class="c9" cx="453" cy="1053" rx="6.2" ry="26"/><ellipse class="c10" cx="447" cy="1090" rx="6.2" ry="26"/><ellipse class="c11" cx="918" cy="1012" rx="6.2" ry="26"/>
<ellipse class="c0" cx="1281" cy="1000" rx="6.2" ry="26"/><ellipse class="c1" cx="1190" cy="1030" rx="6.2" ry="26"/><ellipse class="c2" cx="1222" cy="1070" rx="6.2" ry="26"/><ellipse class="c3" cx="1173" cy="1077" rx="6.2" ry="26"/><ellipse class="c4" cx="1375" cy="1052" rx="6.2" ry="26"/><ellipse class="c5" cx="1390" cy="1085" rx="6.2" ry="26"/><ellipse class="c6" cx="1020" cy="1093" rx="6.2" ry="26"/><ellipse class="c7" cx="355" cy="1152" rx="6.2" ry="26"/><ellipse class="c8" cx="655" cy="1197" rx="6.2" ry="26"/><ellipse class="c9" cx="707" cy="1210" rx="6.2" ry="26"/><ellipse class="c10" cx="1077" cy="1232" rx="6.2" ry="26"/><ellipse class="c11" cx="443" cy="1262" rx="6.2" ry="26"/>
<ellipse class="c0" cx="555" cy="1272" rx="6.2" ry="26"/><ellipse class="c1" cx="1042" cy="1278" rx="6.2" ry="26"/><ellipse class="c2" cx="600" cy="1343" rx="6.2" ry="26"/><ellipse class="c3" cx="493" cy="1368" rx="6.2" ry="26"/><ellipse class="c4" cx="603" cy="1405" rx="6.2" ry="26"/><ellipse class="c5" cx="767" cy="1388" rx="6.2" ry="26"/><ellipse class="c6" cx="945" cy="1420" rx="6.2" ry="26"/><ellipse class="c7" cx="760" cy="1460" rx="6.2" ry="26"/><ellipse class="c8" cx="826" cy="1455" rx="6.2" ry="26"/>
</g></g>
<text x="793" y="1278" font-size="37" fill="#fff" textLength="197" lengthAdjust="spacingAndGlyphs">3D Surfaces</text>
<ellipse cx="1159" cy="1449" rx="5" ry="13" fill="#ff2070" transform="rotate(15 1159 1449)" filter="url(#b2)"/>
<ellipse cx="1158" cy="1449.6" rx="3" ry="8" fill="#80d020" transform="rotate(15 1158 1449.6)"/>
<rect x="1128.3" y="1426.7" width="56.9" height="56.5" fill="none" stroke="#fff" stroke-width="4"/>
<rect x="1401.5" y="1239" width="116.8" height="117" fill="#000"/>
<ellipse cx="1467" cy="1268" rx="8" ry="17" fill="#c02020" transform="rotate(20 1467 1268)" filter="url(#b4)"/>
<ellipse cx="1480" cy="1312" rx="12" ry="22" fill="#701010" filter="url(#b4)"/>
<ellipse cx="1438" cy="1330" rx="8" ry="15" fill="#6a2a50" transform="rotate(15 1438 1330)" filter="url(#b4)"/>
<ellipse cx="1478.4" cy="1304" rx="8" ry="10" fill="#e0d020" filter="url(#b1)"/>
<ellipse cx="1479.4" cy="1322.6" rx="10" ry="14" fill="#e4e4e4" filter="url(#b1)"/>
<rect x="1404" y="1241.5" width="111.8" height="112" fill="none" stroke="#fff" stroke-width="5"/>
<rect x="1446.3" y="1391.6" width="60.9" height="60.4" fill="#000"/>
<ellipse cx="1480" cy="1408.5" rx="2.5" ry="6" fill="#d02020" filter="url(#b1)"/>
<ellipse cx="1486.7" cy="1426" rx="3" ry="4" fill="#e0d020"/>
<ellipse cx="1486.7" cy="1433.4" rx="3" ry="5" fill="#dddddd"/>
<ellipse cx="1466.3" cy="1438.4" rx="2.5" ry="5" fill="#6a2a60" filter="url(#b1)"/>
<rect x="1448.3" y="1393.6" width="56.9" height="56.4" fill="none" stroke="#fff" stroke-width="4"/>
<rect x="777.1" y="1457" width="113.9" height="108" fill="#0a0a82"/>
<ellipse cx="832" cy="1505" rx="13" ry="32" fill="#ff1070" transform="rotate(15 832 1505)" filter="url(#b4)"/>
<ellipse cx="831.7" cy="1514.4" rx="7" ry="20" fill="#90c030" transform="rotate(15 831.7 1514.4)" filter="url(#b2)"/>
<rect x="779.6" y="1459.5" width="108.9" height="103" fill="none" stroke="#fff" stroke-width="5"/>
<rect x="1320" y="1543" width="189" height="13.5" fill="#fff"/>
</g>
</svg>
</body></html>
